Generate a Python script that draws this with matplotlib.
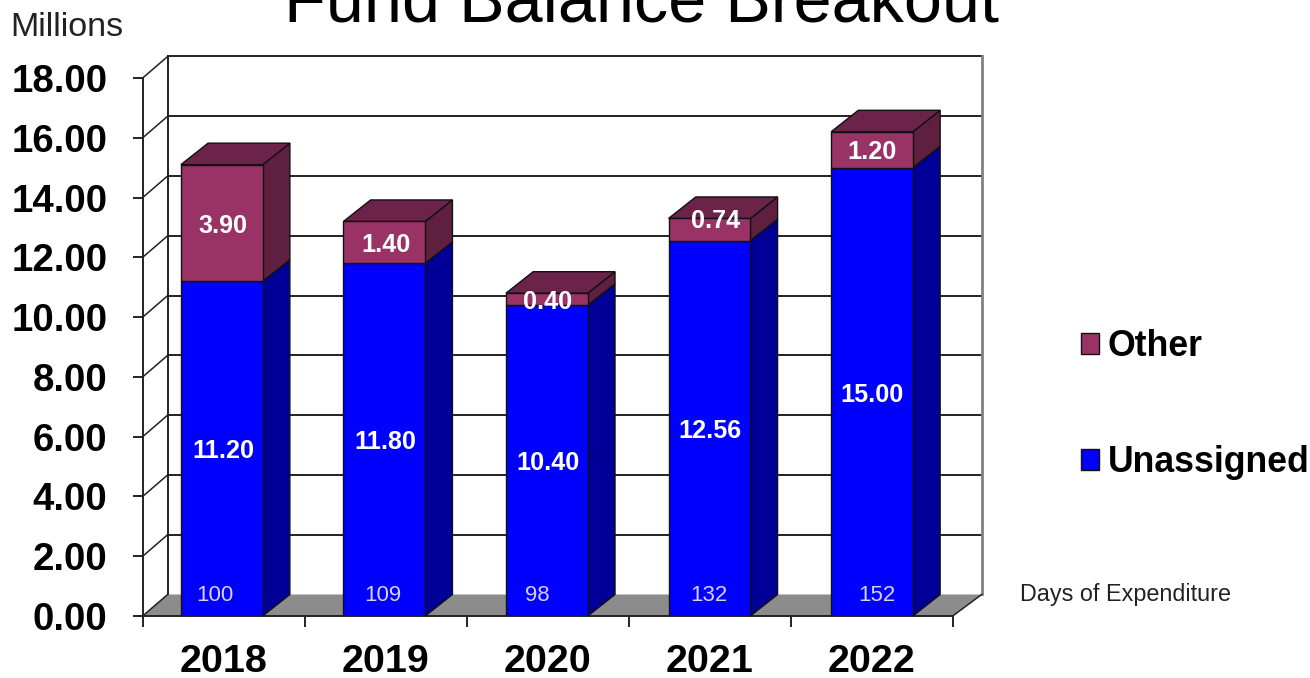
"""Fund balance breakout: stacked bars with a drawn 3-D look."""

import matplotlib
matplotlib.use("Agg")
import matplotlib.pyplot as plt
from matplotlib.patches import Polygon, Rectangle

plt.rcParams["font.family"] = ["Liberation Sans", "DejaVu Sans"]

years = ["2018", "2019", "2020", "2021", "2022"]
unassigned = [11.20, 11.80, 10.40, 12.56, 15.00]
other = [3.90, 1.40, 0.40, 0.74, 1.20]
days = ["100", "109", "98", "132", "152"]
y_ticks = [0, 2, 4, 6, 8, 10, 12, 14, 16, 18]

# depth of the fake 3-D, in data units
DX, DY = 0.168, 0.72
WALL_L, WALL_R = 0.154, 0.179   # the walls splay a little
BAR_W = 0.505
BLUE, BLUE_SIDE = "#0000ff", "#000099"
MAROON, MAROON_SIDE, MAROON_TOP = "#993366", "#5f1f3f", "#6b2349"
LINE = "#222222"
days_shift = [-0.05, -0.015, -0.06, 0.0, 0.035]   # label nudges along x
other_shift = [-0.005, 0, 0, 0.037, 0]
other_lift = [0, 0, 0, 0.36, 0]

W, H = 1310, 678
fig = plt.figure(figsize=(W / 100, H / 100), dpi=100)
ax = fig.add_axes([142.7 / W, 1 - 616 / H, 810 / W, 538 / H])
ax.set_xlim(0, 5)
ax.set_ylim(0, 18)
ax.patch.set_visible(False)
for s in ["top", "right"]:
    ax.spines[s].set_visible(False)
for s in ["left", "bottom"]:
    ax.spines[s].set_color(LINE)
    ax.spines[s].set_linewidth(1.4)
    ax.spines[s].set_zorder(1.5)

# floor and walls
ax.add_patch(Polygon([(0, 0), (5, 0), (5 + WALL_R, DY), (WALL_L, DY)], fc="#8c8c8c", ec="none",
                     zorder=1, clip_on=False))
for y in y_ticks[1:]:
    ax.plot([WALL_L, 5 + WALL_R], [y + DY, y + DY], color=LINE, lw=1.4, clip_on=False, zorder=1)
for y in y_ticks:
    ax.plot([0, WALL_L], [y, y + DY], color=LINE, lw=1.1, clip_on=False, zorder=1)
ax.plot([WALL_L, WALL_L], [DY, 18 + DY], color=LINE, lw=1.4, clip_on=False, zorder=1)
ax.plot([5 + WALL_R, 5 + WALL_R], [DY, 18 + DY], color="#808080", lw=2.0, clip_on=False, zorder=1)
ax.plot([5, 5 + WALL_R], [0, DY], color=LINE, lw=1.1, clip_on=False, zorder=1)


def side(x, y0, y1, color):
    r = x + BAR_W / 2
    ax.add_patch(Polygon([(r, y0), (r + DX, y0 + DY), (r + DX, y1 + DY), (r, y1)],
                         fc=color, ec="#111111", lw=1.0, zorder=2, clip_on=False))


centers = [0.488 + i * 1.0035 for i in range(len(years))]
ax.bar(centers, unassigned, BAR_W, color=BLUE, edgecolor="#111111", lw=1.0, zorder=3)
ax.bar(centers, other, BAR_W, bottom=unassigned, color=MAROON, edgecolor="#111111", lw=1.0, zorder=3)

LOWER = -0.09   # text sits a touch below the segment centre
for i, x in enumerate(centers):
    top = unassigned[i] + other[i]
    side(x, 0, unassigned[i], BLUE_SIDE)
    side(x, unassigned[i], top, MAROON_SIDE)
    l, r = x - BAR_W / 2, x + BAR_W / 2
    ax.add_patch(Polygon([(l, top), (r, top), (r + DX, top + DY), (l + DX, top + DY)],
                         fc=MAROON_TOP, ec="#111111", lw=1.0, zorder=2, clip_on=False))
    ax.text(i + 0.5, unassigned[i] / 2 + LOWER, f"{unassigned[i]:.2f}", color="white", fontsize=18.1,
            fontweight="bold", ha="center", va="center", zorder=5)
    ax.text(i + 0.5 + other_shift[i], unassigned[i] + other[i] / 2 + LOWER + other_lift[i],
            f"{other[i]:.2f}", color="white", fontsize=18.1, fontweight="bold",
            ha="center", va="center", zorder=5)
    ax.text(i + 0.495 + days_shift[i], DY - 0.03, days[i], color="#d8d0ff", fontsize=16,
            ha="center", va="center", zorder=5)

# axes ticks and labels
ax.set_yticks(y_ticks)
ax.set_yticklabels([f"{v:.2f}" for v in y_ticks], fontsize=27.6, fontweight="bold")
ax.tick_params(axis="y", length=7.5, width=1.4, color=LINE, pad=18)
ax.set_xticks(range(6))
ax.set_xticklabels([])
ax.tick_params(axis="x", which="major", length=8, width=1.4, color=LINE)
ax.set_xticks([i + 0.5 for i in range(5)], minor=True)
ax.set_xticklabels(years, minor=True, fontsize=28.4, fontweight="bold")
ax.tick_params(axis="x", which="minor", length=0, pad=20)

fig.text(641 / W, 1 - 21 / H, "Fund Balance Breakout", fontsize=49.2, ha="center", va="baseline")
fig.text(10 / W, 1 - 27 / H, "Millions", fontsize=24.6, ha="left", va="center", color="#222222")
fig.text(1020 / W, 1 - 594 / H, "Days of Expenditure", fontsize=16.8, ha="left", va="center",
         color="#222222")

handles = [Rectangle((0, 0), 1, 1, fc=MAROON, ec="#111111", lw=1.0),
           Rectangle((0, 0), 1, 1, fc=BLUE, ec="#111111", lw=1.0)]
fig.legend(handles, ["Other", "Unassigned"], loc="upper left", frameon=False,
           bbox_to_anchor=(1081 / W, 1 - 329 / H), borderaxespad=0, borderpad=0,
           prop={"size": 25.7, "weight": "bold"}, labelspacing=2.27,
           handlelength=0.5, handleheight=0.5, handletextpad=0.25)

fig.savefig("out.png", dpi=100)
